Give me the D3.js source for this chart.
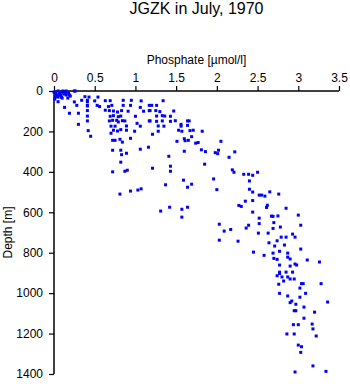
<!DOCTYPE html>
<html><head><meta charset="utf-8">
<script src="https://cdn.jsdelivr.net/npm/d3@7"></script>
<style>body{margin:0;background:#fff}svg{display:block}text{font-family:"Liberation Sans",Arial,sans-serif}</style>
</head><body><div id="chart"></div>
<script>
const title = "JGZK in July, 1970";
const xLabel = "Phosphate [\u00b5mol/l]";
const yLabel = "Depth [m]";
const xTicks = [0,0.5,1,1.5,2,2.5,3,3.5];
const yTicks = [0,200,400,600,800,1000,1200,1400];
const phosphate = [
0.00,0.02,0.05,0.08,0.10,0.12,0.15,0.18,0.20,0.05,0.10,0.03,0.15,0.07,0.25,0.01,0.04,0.09,0.13,0.17,0.06,0.11,0.02,0.14,0.19,
0.26,0.38,0.43,0.54,0.69,0.63,0.85,0.95,1.07,0.50,0.41,0.34,0.25,0.05,0.28,0.41,0.53,0.56,0.67,0.71,0.85,0.94,1.06,1.17,0.13,
0.41,0.63,0.68,0.73,0.78,0.83,0.91,1.10,1.17,0.19,0.30,0.41,0.69,0.73,0.79,0.82,1.00,0.41,0.68,0.72,0.77,0.79,0.84,0.87,1.02,1.17,
0.30,0.70,0.75,0.89,1.06,0.73,0.78,0.82,0.89,0.99,0.42,0.70,0.45,0.81,0.72,0.75,0.94,0.84,1.16,1.06,0.72,0.82,0.89,0.83,0.82,0.90,
0.87,0.72,1.07,1.03,0.94,0.81,0.41,0.41,
1.34,1.20,1.26,1.18,1.25,1.30,1.47,1.26,1.33,1.36,1.43,1.18,1.26,1.33,1.43,1.49,1.56,1.64,1.66,1.28,1.35,1.56,1.64,1.28,1.53,1.57,
1.67,1.71,1.82,1.21,1.69,1.60,1.61,1.51,1.65,1.74,1.77,2.05,1.81,1.86,2.02,1.98,2.01,1.60,2.15,2.22,1.41,1.21,1.43,1.43,1.85,2.19,
2.21,2.33,2.39,2.40,1.96,1.59,1.69,1.64,2.00,1.37,2.40,2.35,2.27,2.30,1.42,1.64,1.31,1.57,1.57,2.03,2.39,2.36,2.17,2.09,2.03,2.26,
2.44,2.50,2.44,2.44,2.52,2.55,2.59,2.65,2.76,2.62,2.61,2.85,2.44,2.52,2.52,2.67,2.69,2.75,3.00,3.03,2.70,2.78,2.69,
2.51,2.63,2.93,2.79,2.85,2.96,2.74,2.64,2.71,2.83,3.03,2.45,2.69,2.77,2.87,2.58,2.70,2.74,2.87,2.90,3.11,3.26,2.77,2.90,2.96,2.98,
2.85,2.93,2.77,2.77,2.74,2.80,2.87,2.90,2.95,2.82,3.04,3.06,3.28,2.76,3.02,3.09,2.77,3.02,2.87,2.92,2.90,2.97,3.36,3.07,3.20,2.95,
2.97,3.07,2.94,3.00,3.17,3.18,3.22,2.86,2.95,3.00,3.04,3.03,3.18,3.34,2.96
];
const depth = [
5,10,0,20,5,15,0,10,25,30,35,20,20,10,0,40,25,30,5,35,15,0,28,12,20,
0,28,30,30,48,48,46,46,49,49,46,46,54,53,71,71,71,77,77,71,71,71,81,71,81,
97,95,97,99,104,97,100,100,97,110,110,124,125,122,127,124,125,148,148,145,145,153,147,148,160,148,
165,174,174,173,174,194,198,191,194,199,196,209,224,239,244,244,234,253,278,288,293,293,308,315,352,392,
397,400,484,490,495,510,53,74,
48,71,71,97,97,102,99,124,122,124,125,148,150,148,150,147,165,148,148,173,174,174,170,199,194,199,
196,194,199,214,226,236,246,249,244,258,255,249,291,300,293,305,310,298,328,301,323,382,372,397,362,390,
402,412,412,445,435,441,461,476,488,464,486,545,566,571,575,575,594,585,624,659,664,678,685,693,738,743,
417,402,500,542,515,515,520,499,510,565,576,580,599,629,656,619,620,618,614,664,651,673,680,
703,703,708,723,723,723,741,751,767,762,782,797,802,793,802,813,828,833,822,831,836,846,861,866,856,861,
896,896,896,903,914,920,920,930,930,940,953,953,953,956,975,1001,1001,1020,1014,1039,1047,1055,1044,1069,1094,1087,
1087,1124,1156,1156,1153,1177,1212,1202,1202,1257,1265,1293,1360,1387,1390
];

const W = 350, H = 384;
const m = {left:54, top:91, right:11, bottom:10};
const svg = d3.select("#chart").append("svg").attr("width",W).attr("height",H);
const x = d3.scaleLinear().domain([0,3.5]).range([m.left, W - m.right]);
const y = d3.scaleLinear().domain([0,1400]).range([m.top, 374]);

svg.append("text").attr("x",(m.left + W - m.right)/2).attr("y",14)
  .attr("text-anchor","middle").attr("font-size",16).text(title);

const gx = svg.append("g").attr("transform",`translate(0,${m.top})`)
  .call(d3.axisTop(x).tickValues(xTicks).tickSize(5).tickPadding(4).tickFormat(d=>String(d)));
const gy = svg.append("g").attr("transform",`translate(${m.left},0)`)
  .call(d3.axisLeft(y).tickValues(yTicks).tickSize(5).tickPadding(6).tickFormat(d=>String(d)));
[gx,gy].forEach(g=>{
  g.selectAll("path").attr("stroke","#000").attr("stroke-width",1.5);
  g.selectAll("line").attr("stroke","#000").attr("stroke-width",1.2);
  g.selectAll("text").attr("font-size",12).attr("fill","#000").attr("font-family","Liberation Sans, Arial, sans-serif");
});
gy.select(".domain").attr("d",`M0,${m.top}V${374}`);
gx.select(".domain").attr("d",`M${m.left},0H${W-m.right}`);

svg.append("text").attr("x",(m.left + W - m.right)/2).attr("y",64)
  .attr("text-anchor","middle").attr("font-size",12).text(xLabel);
svg.append("text").attr("transform",`translate(12,${(m.top+374)/2}) rotate(-90)`)
  .attr("text-anchor","middle").attr("font-size",12).text(yLabel);

svg.append("g").selectAll("rect").data(phosphate.map((p,i)=>[p,depth[i]])).join("rect")
  .attr("x",d=>x(d[0])-1.5).attr("y",d=>y(d[1])-1.5)
  .attr("width",3).attr("height",3).attr("fill","#0000ff");
</script></body></html>
